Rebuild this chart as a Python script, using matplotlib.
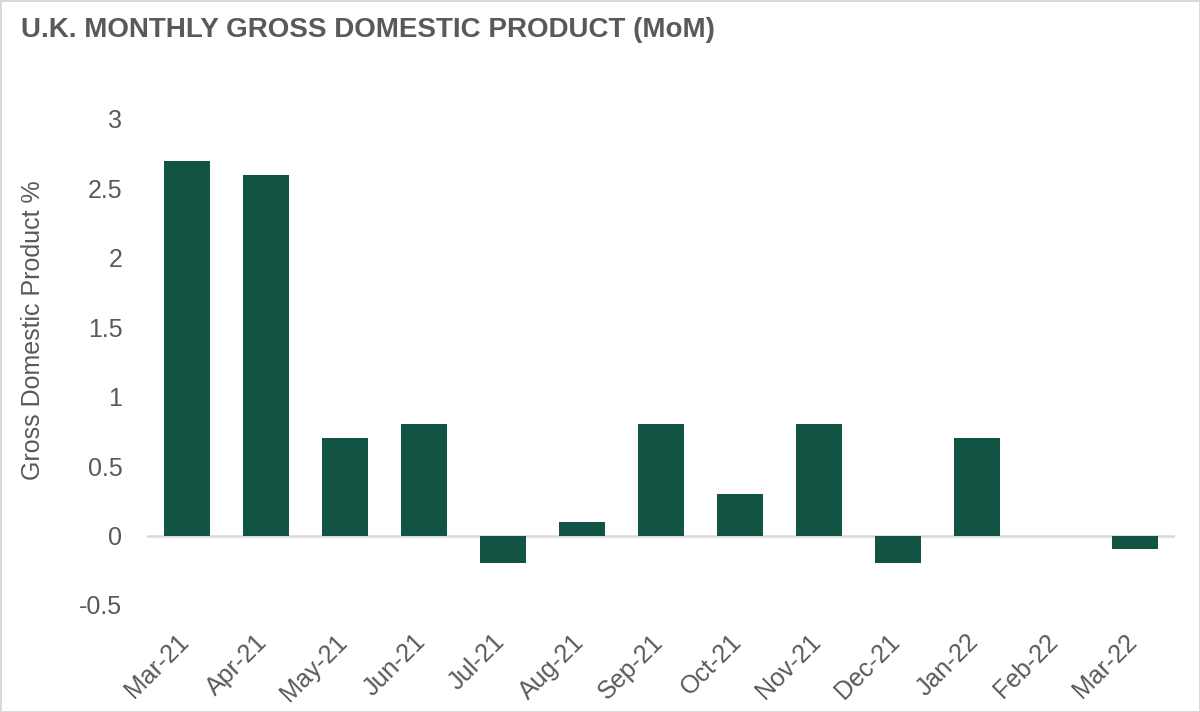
import numpy as np
import matplotlib.pyplot as plt
from matplotlib import transforms

# monthly GDP change, %
months = ['Mar-21', 'Apr-21', 'May-21', 'Jun-21', 'Jul-21', 'Aug-21', 'Sep-21',
          'Oct-21', 'Nov-21', 'Dec-21', 'Jan-22', 'Feb-22', 'Mar-22']
gdp_mom = [2.7, 2.6, 0.7, 0.8, -0.2, 0.1, 0.8, 0.3, 0.8, -0.2, 0.7, 0.0, -0.1]
yticks = [-0.5, 0, 0.5, 1, 1.5, 2, 2.5, 3]
ytick_labels = ['-0.5', '0', '0.5', '1', '1.5', '2', '2.5', '3']

plt.rcParams['font.family'] = ['Liberation Sans', 'DejaVu Sans']
grey = '#595959'
green = '#115443'

fig = plt.figure(figsize=(12, 7.12), dpi=100, linewidth=2, edgecolor='#D9D9D9')
ax = fig.add_axes([0.1229, 0.1503, 0.8559, 0.6826])

x = np.arange(len(months))
ax.bar(x, gdp_mom, width=0.58, color=green, zorder=2)
ax.axhline(0, color='#D9D9D9', linewidth=1.8, zorder=1)

ax.set_xlim(-0.5, len(months) - 0.5)
ax.set_ylim(-0.5, 3)
ax.set_yticks(yticks)
ax.set_yticklabels(ytick_labels)
ax.set_xticks(x)
ax.set_xticklabels(months, rotation=45, ha='right', va='center', rotation_mode='anchor')

for s in ax.spines.values():
    s.set_visible(False)
ax.tick_params(axis='y', length=0, pad=18, labelsize=18, labelcolor=grey)
ax.tick_params(axis='x', length=0, pad=24, labelsize=18, labelcolor=grey)

# nudge rotated month labels so their ends sit under the bars
shift = transforms.ScaledTranslation(-1.5 / 72, 0, fig.dpi_scale_trans)
for lbl in ax.get_xticklabels():
    lbl.set_transform(lbl.get_transform() + shift)

ax.set_ylabel('Gross Domestic Product %', fontsize=18, color=grey)
ax.yaxis.set_label_coords(-0.100, 0.566)

fig.text(0.0175, 0.948, 'U.K. MONTHLY GROSS DOMESTIC PRODUCT (MoM)', fontsize=20,
         fontweight='bold', color=grey, ha='left', va='baseline')

fig.savefig('out.png', dpi=100, edgecolor=fig.get_edgecolor())
